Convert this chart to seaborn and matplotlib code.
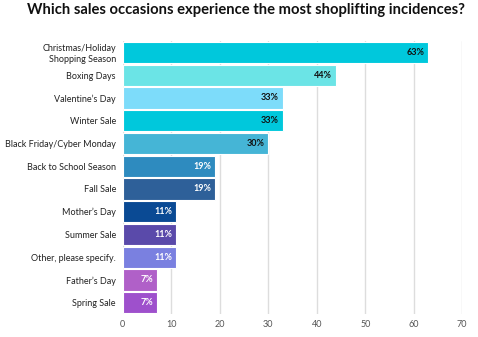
import matplotlib
matplotlib.use("Agg")
import matplotlib.pyplot as plt
import seaborn as sns
import pandas as pd

categories = ["Christmas/Holiday\nShopping Season", "Boxing Days", "Valentine\u2019s Day",
              "Winter Sale", "Black Friday/Cyber Monday", "Back to School Season",
              "Fall Sale", "Mother\u2019s Day", "Summer Sale", "Other, please specify.",
              "Father\u2019s Day", "Spring Sale"]
values = [63, 44, 33, 33, 30, 19, 19, 11, 11, 11, 7, 7]
colors = ["#00C8DC", "#6BE4E6", "#7DDCFA", "#00C8DC", "#45B5D6", "#2E8BBF",
          "#2E6099", "#0A4A94", "#5A4AAA", "#7A80E0", "#B060C8", "#9E50CC"]
label_colors = ["#111111"] * 5 + ["white"] * 7
xticks = [0, 10, 20, 30, 40, 50, 60, 70]

df = pd.DataFrame({"cat": categories, "val": values})

sns.set_theme(style="white")
plt.rcParams["font.family"] = ["Lato", "DejaVu Sans"]

fig = plt.figure(figsize=(4.78, 3.37), dpi=100)
ax = fig.add_axes([0.257, 0.068, 0.710, 0.81])

sns.barplot(data=df, x="val", y="cat", hue="cat", palette=colors, legend=False,
            saturation=1, width=0.94, edgecolor="white", linewidth=0.8, ax=ax, zorder=3)

ax.set_xlim(0, 70)
ax.set_ylim(11.5, -0.5)
ax.set_xticks(xticks)
ax.set_xticklabels([str(t) for t in xticks], fontsize=6.5, color="#555555")
ax.tick_params(axis="y", labelsize=6.5, colors="#222222", length=0, pad=5)
ax.tick_params(axis="x", length=0, pad=4)
for lbl in ax.get_yticklabels():
    lbl.set_multialignment("right")
ax.xaxis.grid(True, color="#dddddd", linewidth=1, zorder=0)
ax.yaxis.grid(False)
for s in ax.spines.values():
    s.set_visible(False)
ax.set_xlabel("")
ax.set_ylabel("")

for i, (v, lc) in enumerate(zip(values, label_colors)):
    ax.text(v - 0.8, i, f"{v}%", ha="right", va="center", fontsize=6.5,
            fontweight="bold", color=lc, zorder=4)

fig.suptitle("Which sales occasions experience the most shoplifting incidences?",
             x=0.515, y=0.99, fontsize=10.6, fontweight="bold", color="#111111")

fig.savefig("out.png", dpi=100)
